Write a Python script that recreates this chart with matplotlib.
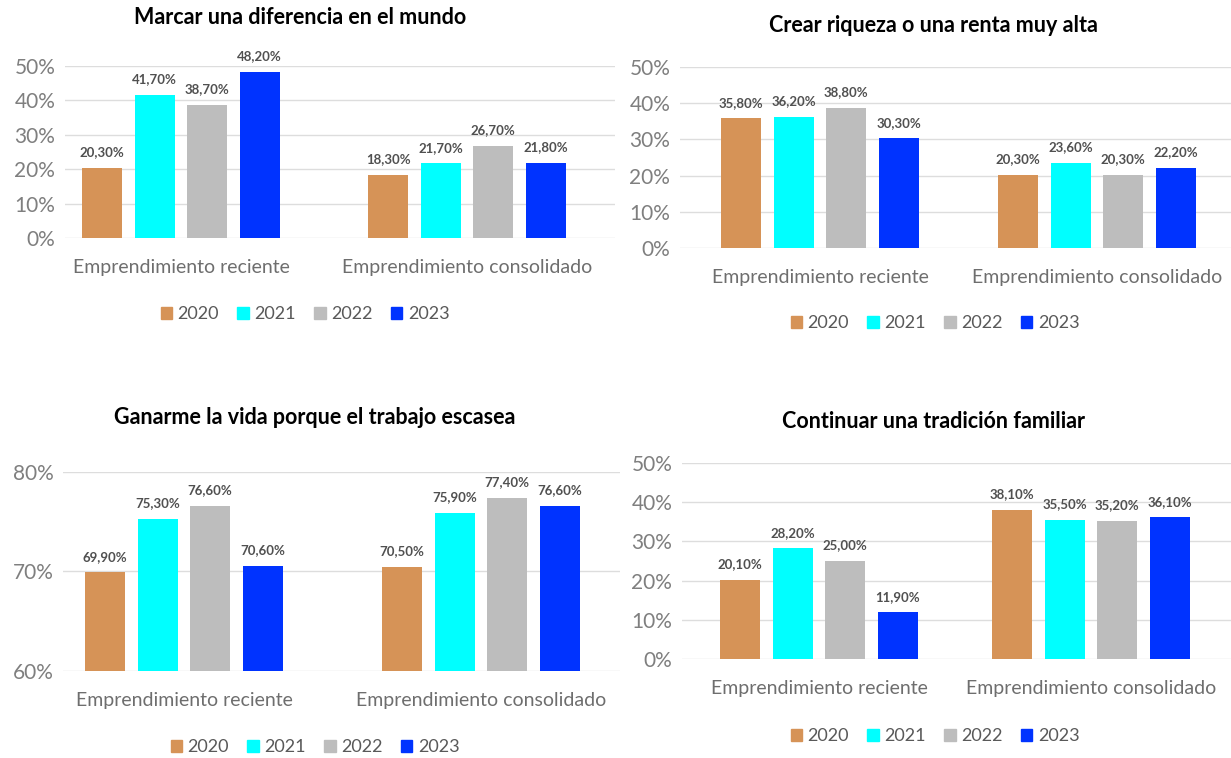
import matplotlib
matplotlib.use("Agg")
import matplotlib.pyplot as plt
from matplotlib.patches import Patch

# data
years = ["2020", "2021", "2022", "2023"]
categorias = ["Emprendimiento reciente", "Emprendimiento consolidado"]

titulos = ["Marcar una diferencia en el mundo",
           "Crear riqueza o una renta muy alta",
           "Ganarme la vida porque el trabajo escasea",
           "Continuar una tradición familiar"]

# valores por año: [reciente, consolidado]
marcar = {"2020": [20.3, 18.3], "2021": [41.7, 21.7], "2022": [38.7, 26.7], "2023": [48.2, 21.8]}
riqueza = {"2020": [35.8, 20.3], "2021": [36.2, 23.6], "2022": [38.8, 20.3], "2023": [30.3, 22.2]}
ganarme = {"2020": [69.9, 70.5], "2021": [75.3, 75.9], "2022": [76.6, 77.4], "2023": [70.6, 76.6]}
tradicion = {"2020": [20.1, 38.1], "2021": [28.2, 35.5], "2022": [25.0, 35.2], "2023": [11.9, 36.1]}

colores = ["#D69357", "#00FFFF", "#BDBDBD", "#0033FF"]

W, H = 1231, 758
fig = plt.figure(figsize=(W / 100, H / 100), dpi=100)
plt.rcParams['font.family'] = ['Lato', 'DejaVu Sans']

# layout in pixels: left, right, top, bottom, centro grupo 0, centro grupo 1,
# titulo x,y, y de legenda, x de legenda, ylim, yticks
paneles = [
    dict(d=marcar, L=65, R=615, top=66, bot=238, c0=181, c1=467, tx=300, ty=18,
         ly=314, lx=305, ylim=(0, 50), yt=[0, 10, 20, 30, 40, 50]),
    dict(d=riqueza, L=680, R=1231, top=67, bot=248, c0=820, c1=1097, tx=933, ty=25,
         ly=323, lx=935, ylim=(0, 50), yt=[0, 10, 20, 30, 40, 50]),
    dict(d=ganarme, L=63, R=620, top=472, bot=671, c0=184, c1=481, tx=315, ty=418,
         ly=747, lx=315, ylim=(60, 80), yt=[60, 70, 80]),
    dict(d=tradicion, L=682, R=1231, top=463, bot=659, c0=819, c1=1091, tx=933, ty=421,
         ly=736, lx=935, ylim=(0, 50), yt=[0, 10, 20, 30, 40, 50]),
]

for p, titulo in zip(paneles, titulos):
    ax = fig.add_axes([p["L"] / W, 1 - p["bot"] / H, (p["R"] - p["L"]) / W, (p["bot"] - p["top"]) / H])
    esc = p["c1"] - p["c0"]
    ancho = 40 / esc
    paso = 52.5 / esc
    for i, y in enumerate(years):
        xs = [g + (i - 1.5) * paso for g in range(2)]
        vals = p["d"][y]
        ax.bar(xs, [v - p["ylim"][0] for v in vals], bottom=p["ylim"][0], width=ancho,
               color=colores[i], zorder=3)
        for x, v in zip(xs, vals):
            ax.annotate(f"{v:.2f}%".replace(".", ","), (x, v), xytext=(0, 7),
                        textcoords="offset points", ha="center", va="bottom",
                        fontsize=9.5, fontweight="bold", color="#505050", annotation_clip=False)
    ax.set_xlim((p["L"] - p["c0"]) / esc, (p["R"] - p["c0"]) / esc)
    ax.set_ylim(*p["ylim"])
    ax.set_yticks(p["yt"])
    ax.set_yticklabels([f"{t}%" for t in p["yt"]])
    ax.set_xticks([0, 1])
    ax.set_xticklabels(categorias)
    ax.tick_params(axis="y", length=0, pad=7, labelsize=15, labelcolor="#7F7F7F")
    ax.tick_params(axis="x", length=0, pad=15, labelsize=14, labelcolor="#6E6E6E")
    ax.grid(axis="y", color="#DDDDDD", linewidth=1, zorder=0)
    for s in ax.spines.values():
        s.set_visible(False)
    fig.text(p["tx"] / W, 1 - p["ty"] / H, titulo, ha="center", va="center",
             fontsize=15.5, fontweight="bold", color="#000000")
    handles = [Patch(color=c, label=y) for c, y in zip(colores, years)]
    fig.legend(handles=handles, loc="center", bbox_to_anchor=(p["lx"] / W, 1 - p["ly"] / H),
               ncol=4, frameon=False, fontsize=13, handlelength=0.65, handleheight=0.65,
               handletextpad=0.3, columnspacing=1.0, labelcolor="#595959")

fig.savefig("out.png", dpi=100)
